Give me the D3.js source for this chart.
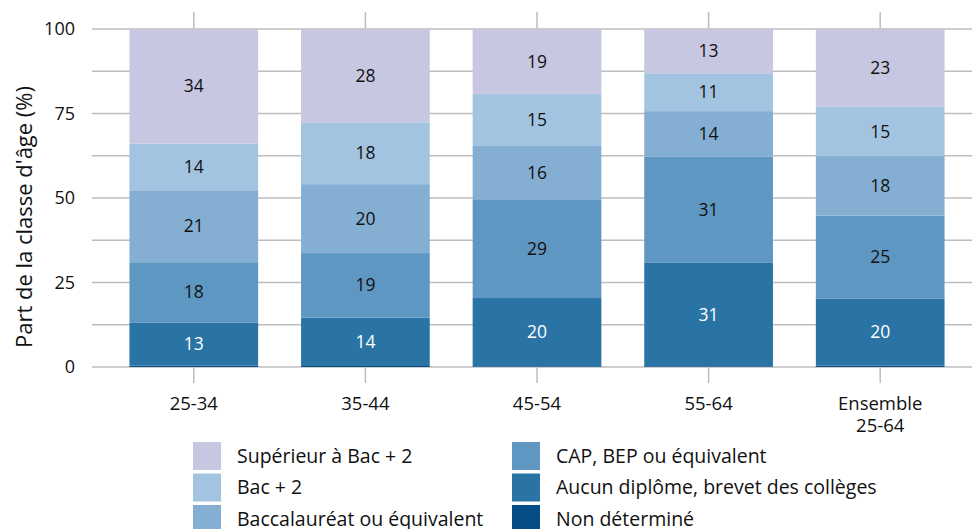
<!DOCTYPE html>
<html>
<head>
<meta charset="utf-8">
<script src="https://cdn.jsdelivr.net/npm/d3@7"></script>
<style>
  body { margin: 0; background: #fff; }
  text { font-family: "Open Sans", "Noto Sans", sans-serif; fill: #111; }
</style>
</head>
<body>
<script>
// age groups and education levels (bottom of stack first)
var ages = ["25-34", "35-44", "45-54", "55-64", "Ensemble 25-64"];
var levels = ["Non déterminé", "Aucun diplôme, brevet des collèges", "CAP, BEP ou équivalent",
              "Baccalauréat ou équivalent", "Bac + 2", "Supérieur à Bac + 2"];

// share (%) per level, one value per age group
var nonDetermine = [0.4, 0.3, 0.2, 0.2, 0.4];
var aucunDiplome = [12.8, 14.3, 20.2, 30.6, 19.8];
var capBep       = [17.8, 19.1, 29.0, 31.4, 24.6];
var bac          = [21.3, 20.4, 16.0, 13.5, 17.6];
var bac2         = [13.8, 18.3, 15.4, 11.2, 14.6];
var superieur    = [33.9, 27.6, 19.2, 13.1, 23.0];

var yTicks = [0, 25, 50, 75, 100];
var yGrid = [0, 12.5, 25, 37.5, 50, 62.5, 75, 87.5, 100];

var seriesValues = [nonDetermine, aucunDiplome, capBep, bac, bac2, superieur];
var colors = ["#054d86", "#2a74a5", "#5f97c3", "#84afd3", "#a3c4e0", "#c7c7e2"];
var labelColors = [null, "#fff", "#111", "#111", "#111", "#111"];

var width = 972, height = 529;

var svg = d3.select("body").append("svg")
    .attr("width", width)
    .attr("height", height);

var x = d3.scaleBand()
    .domain(ages)
    .range([108, 966])
    .paddingInner(0.25)
    .paddingOuter(0.125);

var y = d3.scaleLinear()
    .domain([0, 100])
    .range([367, 29]);

// gridlines
svg.append("g").selectAll("line")
    .data(yGrid)
  .enter().append("line")
    .attr("x1", 92).attr("x2", width)
    .attr("y1", function(d) { return y(d); })
    .attr("y2", function(d) { return y(d); })
    .attr("stroke", "#bebebe")
    .attr("stroke-width", 1.5);

// ticks on top and bottom at each category
ages.forEach(function(a) {
  var cx = x(a) + x.bandwidth() / 2;
  svg.append("line").attr("x1", cx).attr("x2", cx).attr("y1", 12).attr("y2", y(100))
      .attr("stroke", "#bebebe").attr("stroke-width", 1.5);
  svg.append("line").attr("x1", cx).attr("x2", cx).attr("y1", y(0)).attr("y2", 383)
      .attr("stroke", "#bebebe").attr("stroke-width", 1.5);
});

// stack
var table = ages.map(function(a, i) {
  var row = {age: a};
  levels.forEach(function(l, j) { row[l] = seriesValues[j][i]; });
  return row;
});
var stacked = d3.stack().keys(levels)(table);

var layer = svg.selectAll(".layer")
    .data(stacked)
  .enter().append("g")
    .attr("class", "layer")
    .style("fill", function(d, i) { return colors[i]; });

layer.selectAll("rect")
    .data(function(d) { return d; })
  .enter().append("rect")
    .attr("x", function(d) { return x(d.data.age); })
    .attr("width", x.bandwidth())
    .attr("y", function(d) { return y(d[1]); })
    .attr("height", function(d) { return y(d[0]) - y(d[1]); });

layer.each(function(s, i) {
  if (!labelColors[i]) return;
  d3.select(this).selectAll("text")
      .data(s)
    .enter().append("text")
      .attr("x", function(d) { return x(d.data.age) + x.bandwidth() / 2; })
      .attr("y", function(d) { return y((d[0] + d[1]) / 2); })
      .attr("dy", "0.35em")
      .attr("text-anchor", "middle")
      .style("font-size", "17.5px")
      .style("fill", labelColors[i])
      .text(function(d) { return Math.round(d[1] - d[0]); });
});

// y axis labels
svg.append("g").selectAll("text")
    .data(yTicks)
  .enter().append("text")
    .attr("x", 75)
    .attr("y", function(d) { return y(d); })
    .attr("dy", "0.35em")
    .attr("text-anchor", "end")
    .style("font-size", "18px")
    .text(function(d) { return d; });

svg.append("text")
    .attr("transform", "translate(24," + 217 + ") rotate(-90)")
    .attr("dy", "0.35em")
    .attr("text-anchor", "middle")
    .style("font-size", "22px")
    .text("Part de la classe d'âge (%)");

// x labels
ages.forEach(function(a) {
  var cx = x(a) + x.bandwidth() / 2;
  var t = svg.append("text").attr("text-anchor", "middle").style("font-size", "18.5px");
  var parts = a === "Ensemble 25-64" ? ["Ensemble", "25-64"] : [a];
  parts.forEach(function(p, k) {
    t.append("tspan").attr("x", cx).attr("y", 410 + k * 22).text(p);
  });
});

// legend
var legendOrder = [5, 4, 3, 2, 1, 0];
var legend = svg.selectAll(".legend")
    .data(legendOrder)
  .enter().append("g")
    .attr("class", "legend")
    .attr("transform", function(d, i) {
      return "translate(" + (i < 3 ? 193 : 512) + "," + (442 + (i % 3) * 31.5) + ")";
    });

legend.append("rect")
    .attr("width", 28)
    .attr("height", 28)
    .style("fill", function(d) { return colors[d]; });

legend.append("text")
    .attr("x", 44)
    .attr("y", 14)
    .attr("dy", "0.35em")
    .style("font-size", "19.5px")
    .text(function(d) { return levels[d]; });
</script>
</body>
</html>
